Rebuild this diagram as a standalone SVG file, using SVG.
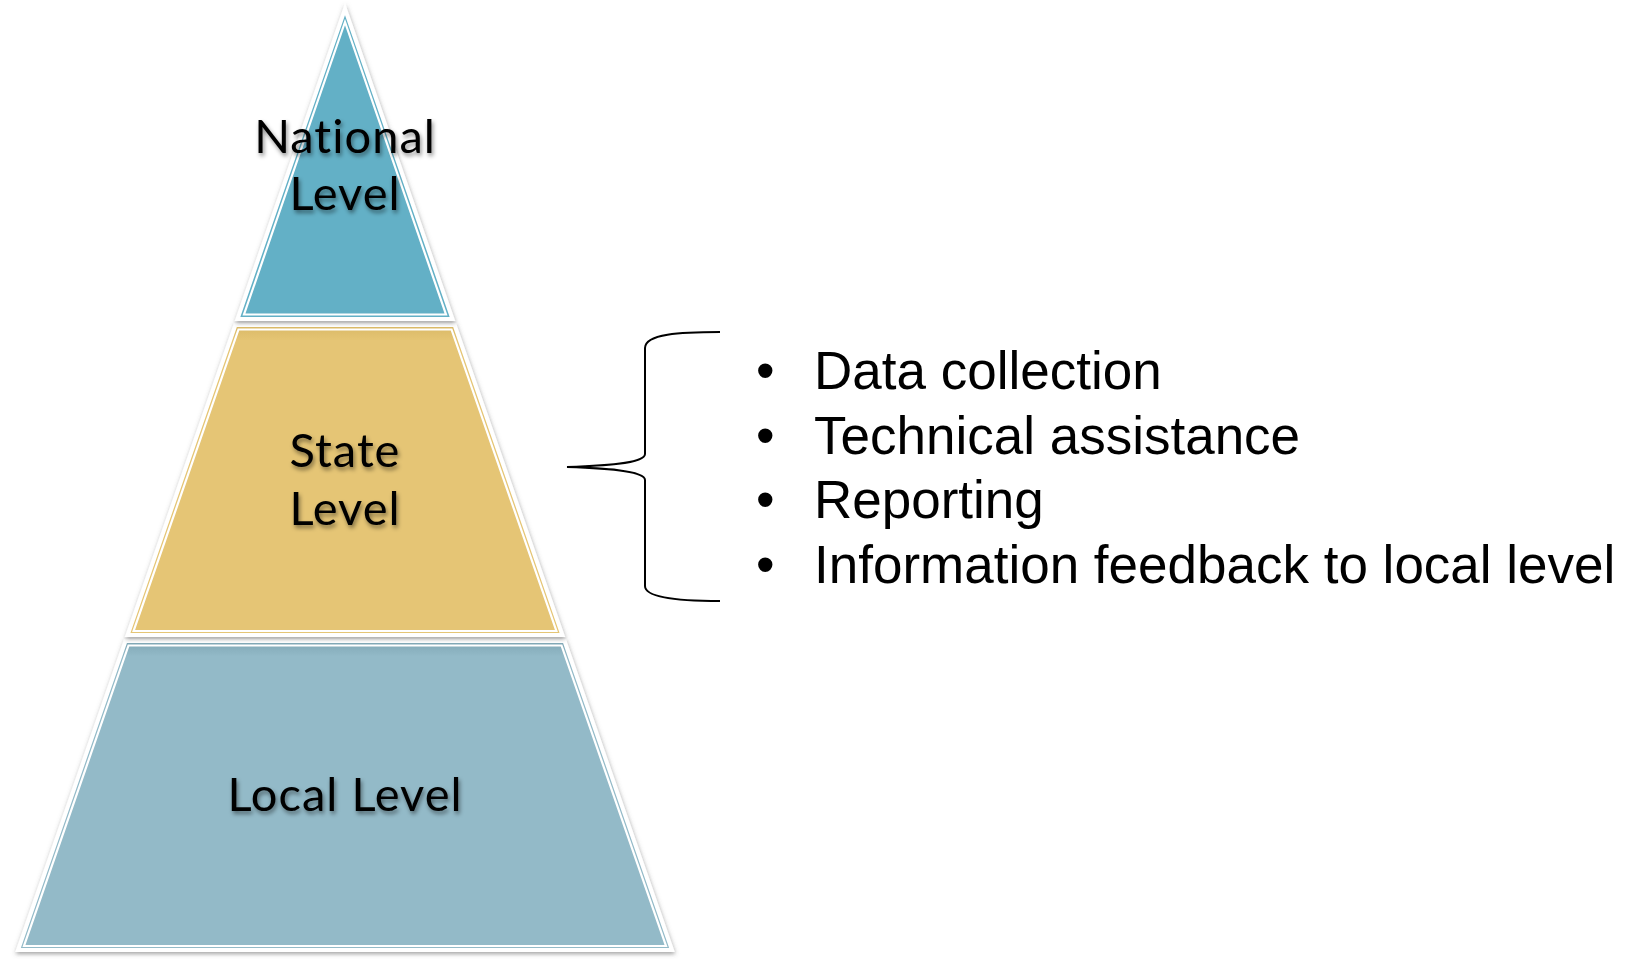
<svg xmlns="http://www.w3.org/2000/svg" width="1630" height="960" viewBox="0 0 1630 960">
<style>
.outer{stroke:#ffffff;stroke-width:4;stroke-linejoin:miter;filter:url(#shadow)}
.inner{fill:none;stroke:#ffffff;stroke-width:2.2;stroke-linejoin:miter}
.lvl{font-family:Lato,"Open Sans","DejaVu Sans",sans-serif;font-size:47px;letter-spacing:1px;fill:#000;text-anchor:middle;filter:url(#tshadow)}
.bul{font-family:"Liberation Sans",Arial,sans-serif;font-size:53px;fill:#000}
.brace{fill:none;stroke:#000;stroke-width:2}
</style>
<defs>
<filter id="shadow" x="-10%" y="-10%" width="120%" height="120%">
<feDropShadow dx="0.5" dy="2" stdDeviation="2" flood-color="#555" flood-opacity="0.55"/>
</filter>
<filter id="tshadow" x="-10%" y="-20%" width="120%" height="150%">
<feDropShadow dx="1.5" dy="3" stdDeviation="2" flood-color="#000" flood-opacity="0.45"/>
</filter>
<linearGradient id="gState" x1="0" y1="0" x2="0" y2="1">
<stop offset="0" stop-color="#d9b866"/><stop offset="0.05" stop-color="#e5c574"/><stop offset="1" stop-color="#e5c574"/>
</linearGradient>
<linearGradient id="gLocal" x1="0" y1="0" x2="0" y2="1">
<stop offset="0" stop-color="#7fa6b4"/><stop offset="0.05" stop-color="#93bac8"/><stop offset="1" stop-color="#93bac8"/>
</linearGradient>
</defs>
<rect width="1630" height="960" fill="#ffffff"/>
<g id="local-level">
<polygon class="outer" fill="url(#gLocal)" points="125.5,641 564.5,641 672,950 18,950"/>
<polygon class="inner" points="128.5,645.5 561.5,645.5 666,946 24,946"/>
<text class="lvl" x="345" y="811">Local Level</text>
</g>
<g id="state-level">
<polygon class="outer" fill="url(#gState)" points="235.4,325 454.6,325 562.4,635 127.6,635"/>
<polygon class="inner" points="238.5,329.5 451.5,329.5 556.4,631 133.6,631"/>
<text class="lvl" x="345" y="467">State</text>
<text class="lvl" x="345" y="525">Level</text>
</g>
<g id="national-level">
<polygon class="outer" fill="#64b0c6" points="345,9 452.5,319 237.5,319"/>
<polygon class="inner" points="345,22 446,314.5 244,314.5"/>
<text class="lvl" x="345" y="153">National</text>
<text class="lvl" x="345" y="210">Level</text>
</g>
<g id="connectors">
<path class="brace" d="M720,332 C680,332 645,334 645,348 L645,454 C645,464 600,466 567,467 C600,468 645,470 645,480 L645,586 C645,598 680,601 720,601"/>
</g>
<g id="bullets">
<text class="bul" x="756" y="389">•</text>
<text class="bul" x="814" y="389">Data collection</text>
<text class="bul" x="756" y="454">•</text>
<text class="bul" x="814" y="454">Technical assistance</text>
<text class="bul" x="756" y="518">•</text>
<text class="bul" x="814" y="518">Reporting</text>
<text class="bul" x="756" y="583">•</text>
<text class="bul" x="814" y="583">Information feedback to local level</text>
</g>
</svg>
